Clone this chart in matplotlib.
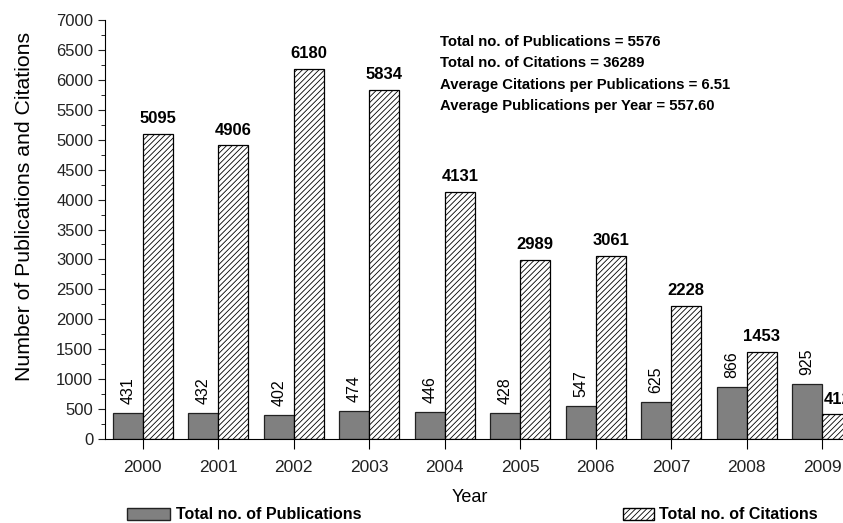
import numpy as np
import matplotlib
matplotlib.use('Agg')
import matplotlib.pyplot as plt
from matplotlib.patches import Patch
from matplotlib.ticker import MultipleLocator

# dados
anos = ['2000', '2001', '2002', '2003', '2004', '2005', '2006', '2007', '2008', '2009']
publicacoes = [431, 432, 402, 474, 446, 428, 547, 625, 866, 925]
citacoes = [5095, 4906, 6180, 5834, 4131, 2989, 3061, 2228, 1453, 412]

resumo = ['Total no. of Publications = 5576',
          'Total no. of Citations = 36289',
          'Average Citations per Publications = 6.51',
          'Average Publications per Year = 557.60']

plt.rcParams['font.family'] = ['Liberation Sans', 'DejaVu Sans']
plt.rcParams['hatch.linewidth'] = 0.6

fig = plt.figure(figsize=(8.43, 5.23), dpi=100)
# o eixo passa da borda direita, como no original
ax = fig.add_axes([105 / 843, 84 / 523, 755 / 843, 419 / 523])

x = np.arange(len(anos))
w = 0.4
b1 = ax.bar(x - w / 2, publicacoes, w, color='#808080', edgecolor='#222222', linewidth=0.9)
b2 = ax.bar(x + w / 2, citacoes, w, color='white', edgecolor='black', hatch='//////', linewidth=0.9)

for r, v in zip(b1, publicacoes):
    ax.text(r.get_x() + r.get_width() / 2, v + 150, str(v), rotation=90,
            ha='center', va='bottom', fontsize=11.5)
for r, v in zip(b2, citacoes):
    ax.text(r.get_x() + r.get_width() / 2, v + 130, str(v),
            ha='center', va='bottom', fontsize=12, fontweight='bold')

ax.set_xlim(-0.5, len(anos) - 0.5)
ax.set_ylim(0, 7000)
ax.set_xticks(x)
ax.set_xticklabels(anos, fontsize=12.5, color='#222222')
ax.yaxis.set_major_locator(MultipleLocator(500))
ax.yaxis.set_minor_locator(MultipleLocator(250))
ax.tick_params(axis='y', labelsize=12, colors='#222222', length=5, direction='out')
ax.tick_params(axis='y', which='minor', length=3)
ax.tick_params(axis='x', length=7, pad=8)
ax.spines['top'].set_visible(False)
ax.spines['right'].set_visible(False)

ax.set_ylabel('Number of Publications and Citations', fontsize=15.3)
ax.yaxis.set_label_coords(-0.094, 0.554)
fig.text(470 / 843, 1 - 497 / 523, 'Year', ha='center', va='center', fontsize=13)

for i, linha in enumerate(resumo):
    fig.text(440 / 843, 1 - (42 + 21.3 * i) / 523, linha, ha='left', va='center',
             fontsize=10.7, fontweight='bold')

h1 = Patch(facecolor='#808080', edgecolor='#222222', label='Total no. of Publications')
h2 = Patch(facecolor='white', edgecolor='black', hatch='//////', label='Total no. of Citations')
for h, xp, hl in [(h1, 124 / 843, 2.7), (h2, 620 / 843, 1.9)]:
    fig.legend(handles=[h], loc='lower left', bbox_to_anchor=(xp, -0.005), frameon=False,
               borderpad=0.1, borderaxespad=0.1, handlelength=hl, handleheight=0.8,
               handletextpad=0.35, prop={'weight': 'bold', 'size': 11.5})

fig.savefig('out.png', dpi=100)
